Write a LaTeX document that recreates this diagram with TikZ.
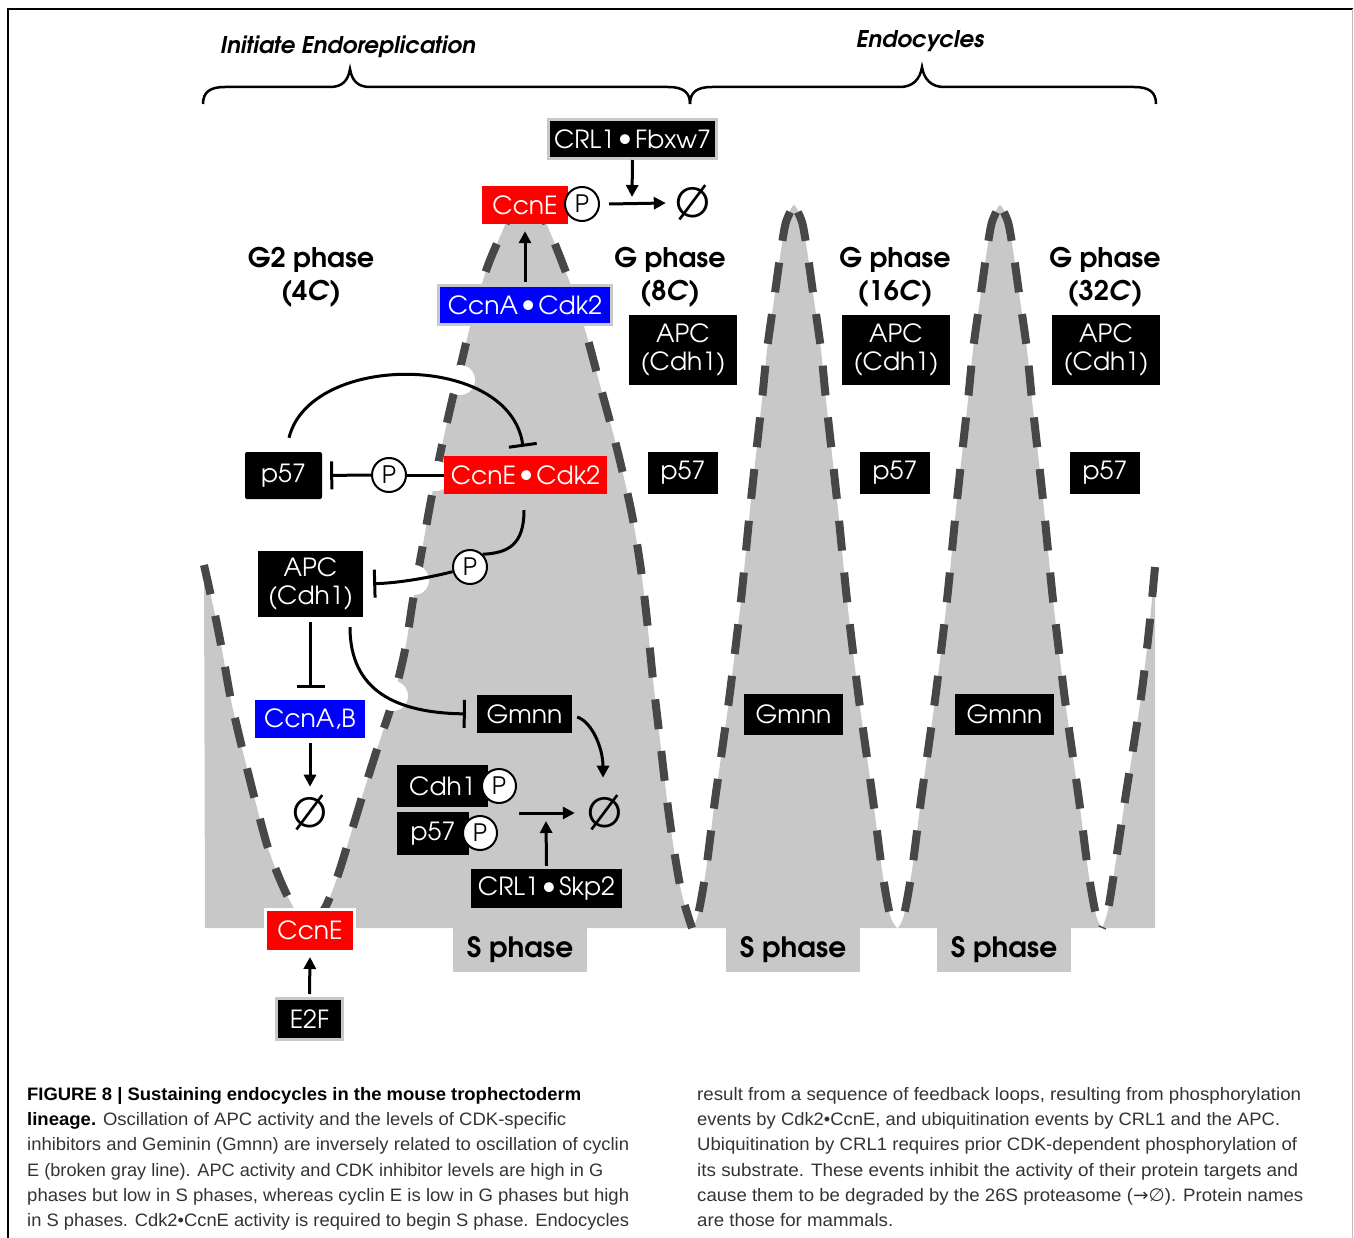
\documentclass[tikz,border=0pt]{standalone}
\usepackage{fontspec}
\usepackage{graphicx}
\usetikzlibrary{arrows.meta,calc}
\setmainfont{Liberation Sans}
\newfontfamily\gothic{texgyreadventor}[Extension=.otf,UprightFont=*-regular,BoldFont=*-bold,ItalicFont=*-italic,BoldItalicFont=*-bolditalic]
\newfontfamily\symfont{DejaVu Sans}
\newfontfamily\capfont{Liberation Sans}
\newcommand\cxdot{\kern3pt\raisebox{1.5pt}{\scalebox{1.1}{•}}\kern3pt}
\definecolor{sgray}{HTML}{C8C8C8}
\definecolor{bgray}{HTML}{BDBDBD}
\definecolor{dgray}{HTML}{474747}
\definecolor{cred}{HTML}{FF0000}
\definecolor{cblue}{HTML}{0000FF}
\definecolor{capgray}{HTML}{333333}
\tikzset{
  box/.style={font=\gothic\fontsize{25}{28}\selectfont, text=white, inner sep=0pt, align=center},
  blk/.style={box, fill=black},
  redb/.style={box, fill=cred},
  blueb/.style={box, fill=cblue},
  pc/.style={circle, draw=black, fill=white, line width=2pt, minimum size=34pt, inner sep=0pt, font=\gothic\fontsize{24}{24}\selectfont},
  conn/.style={line width=3pt, black},
  act/.style={conn, -{Triangle[length=12pt,width=12pt]}},
  inh/.style={conn, -{Bar[width=28pt,line width=3pt]}},
  nul/.style={font=\gothic\fontsize{40}{40}\selectfont, inner sep=0pt, minimum width=36pt, minimum height=36pt},
  phase/.style={font=\gothic\bfseries\fontsize{27}{33}\selectfont, align=center},
  stab/.style={fill=sgray, minimum width=134pt, minimum height=44pt, inner sep=0pt, font=\gothic\bfseries\fontsize{28}{28}\selectfont},
  head/.style={font=\gothic\bfseries\itshape\fontsize{23}{23}\selectfont},
  capline/.style={anchor=base west, inner sep=0pt, font=\capfont\fontsize{18}{18}\selectfont, text=capgray},
  brace/.style={line width=2.5pt, black},
  wave/.style={dgray, line width=8pt, dash pattern=on 30pt off 22pt},
  wavetop/.style={wave, dash phase=44pt}
}
\begin{document}
\begin{tikzpicture}[x=1pt,y=-1pt]
\useasboundingbox (0,0) rectangle (1354,1238);
% frame
\draw[line width=2pt] (8,1240) -- (8,9) -- (1353,9);
\draw[bgray, line width=1.5pt] (1352.5,9) -- (1352.5,1240);

% headings and braces
\node[head] (hInit) at (348,47) {Initiate Endoreplication};
\node[head] (hEndo) at (920,41) {Endocycles};
\draw[brace] (203,104) .. controls (203,92) and (210,87) .. (225,87) -- (330,87)
  .. controls (342,87) and (348,81) .. (350,69) .. controls (352,81) and (358,87) .. (370,87)
  -- (668,87) .. controls (683,87) and (690,92) .. (690,104);
\draw[brace] (690,104) .. controls (690,92) and (697,87) .. (712,87) -- (900,87)
  .. controls (912,87) and (920,80) .. (922,67) .. controls (924,80) and (932,87) .. (944,87)
  -- (1134,87) .. controls (1149,87) and (1156,92) .. (1156,104);

% gray S-phase area
\fill[sgray] (205,928) -- plot[smooth] coordinates {(204,565) (214,610) (222,650) (231,700) (243,752) (255,800) (268,848) (281,882) (294,908) (311,928)}
 -- plot[smooth] coordinates {(311,928) (326,906) (338,875) (352,830) (366,784) (380,740) (393,700) (405,650) (413,600) (422,550) (431,500) (441,450) (451,405) (462,360) (473,315) (487,268) (502,232) (513,208) (526,192) (539,208) (550,232) (562,262) (575,297) (588,340) (600,385) (613,433) (624,478) (633,520) (641,570) (647,620) (653,680) (660,740) (667,800) (674,850) (682,895) (692,928)}
 -- plot[smooth] coordinates {(692,928) (698,915) (706,870) (715,800) (729,700) (741,600) (751,500) (762,400) (767,350) (774,300) (781,250) (786,222) (794,205) (802,222) (807,250) (814,300) (821,350) (826,400) (837,500) (847,600) (859,700) (873,800) (882,870) (890,915) (897,928)}
 -- plot[smooth] coordinates {(898,928) (904,915) (912,870) (921,800) (935,700) (947,600) (957,500) (968,400) (973,350) (980,300) (987,250) (992,222) (1000,205) (1008,222) (1013,250) (1020,300) (1027,350) (1032,400) (1043,500) (1053,600) (1065,700) (1079,800) (1088,870) (1096,915) (1102,928)}
 -- plot[smooth] coordinates {(1102,928) (1108,910) (1116,860) (1125,800) (1134,743) (1142,690) (1149,630) (1155,567)}
 -- (1155,928) -- cycle;
\node[stab] (s1) at (520,950) {\raisebox{-4pt}{S phase}};
\node[stab] (s2) at (793,950) {\raisebox{-4pt}{S phase}};
\node[stab] (s3) at (1004,950) {\raisebox{-4pt}{S phase}};

% dashed cyclin E curve, one stroke per flank
\draw[wave] plot[smooth] coordinates {(204,565) (214,610) (222,650) (231,700) (243,752) (255,800) (268,848) (281,882) (294,908) (311,928)};
\draw[wavetop] plot[smooth] coordinates {(526,192) (513,208) (502,232) (487,268) (473,315) (462,360) (451,405) (441,450) (431,500) (422,550) (413,600) (405,650) (393,700) (380,740) (366,784) (352,830) (338,875) (326,906) (311,928)};
\draw[wavetop] plot[smooth] coordinates {(526,192) (539,208) (550,232) (562,262) (575,297) (588,340) (600,385) (613,433) (624,478) (633,520) (641,570) (647,620) (653,680) (660,740) (667,800) (674,850) (682,895) (692,928)};
\draw[wavetop] plot[smooth] coordinates {(794,205) (786,222) (781,250) (774,300) (767,350) (762,400) (751,500) (741,600) (729,700) (715,800) (706,870) (698,915) (692,928)};
\draw[wavetop] plot[smooth] coordinates {(794,205) (802,222) (807,250) (814,300) (821,350) (826,400) (837,500) (847,600) (859,700) (873,800) (882,870) (890,915) (897,928)};
\draw[wavetop] plot[smooth] coordinates {(1000,205) (992,222) (987,250) (980,300) (973,350) (968,400) (957,500) (947,600) (935,700) (921,800) (912,870) (904,915) (898,928)};
\draw[wavetop] plot[smooth] coordinates {(1000,205) (1008,222) (1013,250) (1020,300) (1027,350) (1032,400) (1043,500) (1053,600) (1065,700) (1079,800) (1088,870) (1096,915) (1102,928)};
\draw[wave] plot[smooth] coordinates {(1155,567) (1149,630) (1142,690) (1134,743) (1125,800) (1116,860) (1108,910) (1102,928)};

% line-crossing notches
\fill[white] (460,380) circle (15pt);
\fill[white] (436,476) circle (15pt);
\fill[white] (414,580) circle (15pt);
\fill[white] (393,696) circle (15pt);

% phase labels
\node[phase] (g2) at (311,277) {G2 phase\\(4\textit{C})};
\node[phase] (g8) at (670,277) {G phase\\(8\textit{C})};
\node[phase] (g16) at (895,277) {G phase\\(16\textit{C})};
\node[phase] (g32) at (1105,277) {G phase\\(32\textit{C})};

% G-phase boxes
\node[blk, minimum width=108pt, minimum height=70pt] (apc8) at (683,350) {APC\\(Cdh1)};
\node[blk, minimum width=108pt, minimum height=70pt] (apc16) at (896,350) {APC\\(Cdh1)};
\node[blk, minimum width=108pt, minimum height=70pt] (apc32) at (1106,350) {APC\\(Cdh1)};
\node[blk, minimum width=70pt, minimum height=42pt] (p578) at (683,473) {p57};
\node[blk, minimum width=70pt, minimum height=42pt] (p5716) at (895,473) {p57};
\node[blk, minimum width=70pt, minimum height=42pt] (p5732) at (1105,473) {p57};
\node[blk, minimum width=99pt, minimum height=41pt] (gm16) at (793.5,714.5) {Gmnn};
\node[blk, minimum width=99pt, minimum height=41pt] (gm32) at (1004.5,714.5) {Gmnn};

% top: CcnE degradation
\node[blk, draw=sgray, line width=3pt, minimum width=168pt, minimum height=39pt] (crlF) at (632.5,139) {CRL1\cxdot Fbxw7};
\node[redb, minimum width=86pt, minimum height=38pt] (ccnE) at (525,205) {CcnE};
\node[pc] (pE) at (582,204) {P};
\node[nul] (nullT) at (693,203) {Ø};
\coordinate (jT) at (632,197);
\draw[act] ([xshift=9pt]pE.east) -- ([xshift=-9pt]nullT.west);
\draw[act] (crlF.south) -- (jT);

\node[blueb, draw=sgray, line width=3pt, minimum width=173pt, minimum height=39pt] (ccnA) at (525,305) {CcnA\cxdot Cdk2};
\draw[act] ([yshift=2pt]ccnA.north) -- ([yshift=-7pt]ccnE.south);

% CcnE-Cdk2 and p57
\node[redb, minimum width=163pt, minimum height=38pt] (ccnEC) at (525.5,475) {CcnE\cxdot Cdk2};
\node[blk, rounded corners=2pt, minimum width=77pt, minimum height=47pt] (p57a) at (283.5,475.5) {p57};
\node[pc] (pA) at (389,475) {P};
\draw[conn] (ccnEC.west) -- (pA.east);
\draw[inh, shorten >=8pt] (pA.west) -- (p57a.east);
\draw[inh] ([xshift=5.5pt,yshift=14pt]p57a.north) .. controls (310,352) and (510,352) .. ([xshift=-2.5pt,yshift=9pt]ccnEC.north);

% APC branch
\node[pc] (pB) at (470,567) {P};
\draw[conn] ([xshift=-1.5pt,yshift=-16pt]ccnEC.south) .. controls (524,545) and (508,553) .. (pB.north east);
\node[blk, minimum width=105pt, minimum height=66pt] (apc) at (310.5,584) {APC\\(Cdh1)};
\draw[inh, shorten >=10pt] (pB.195) .. controls (432,577) and (400,583) .. (apc.east);
\node[blueb, minimum width=110pt, minimum height=38pt] (ccnAB) at (310,719) {CcnA,B};
\draw[inh] ([yshift=-5pt]apc.south) -- ([yshift=12pt]apc.south |- ccnAB.north);
\node[nul] (nullL) at (310,813) {Ø};
\draw[act] ([yshift=-5pt]ccnAB.south) -- ([yshift=8pt]nullL.north);
\node[blk, minimum width=95pt, minimum height=38pt] (gmnn) at (524.5,714) {Gmnn};
\draw[inh, shorten >=11pt] ([xshift=39.5pt,yshift=-10pt]apc.south) .. controls (350,690) and (395,713) .. (gmnn.west);
\node[nul] (nullR) at (605,813) {Ø};
\draw[act] ([xshift=5pt,yshift=-3pt]gmnn.east) .. controls (592,722) and (603,748) .. ([xshift=-2pt,yshift=17pt]nullR.north);

% CRL1-Skp2 substrates
\node[blk, minimum width=91pt, minimum height=42pt] (cdh1) at (442.5,786) {Cdh1};
\node[pc] (pC) at (499,786) {P};
\node[blk, minimum width=72pt, minimum height=43pt] (p57b) at (433,833.5) {p57};
\node[pc] (pD) at (480,833) {P};
\coordinate (aS) at (519,813);
\draw[act] (aS) -- ([xshift=-12pt]nullR.west);
\node[blk, minimum width=151pt, minimum height=39pt] (crlS) at (546.5,888.5) {CRL1\cxdot Skp2};
\coordinate (jS) at (546,821);
\draw[act] ([yshift=3pt]crlS.north) -- (jS);

% E2F -> CcnE
\node[redb, draw=white, line width=3pt, minimum width=89pt, minimum height=42pt] (ccnEb) at (310,930.5) {CcnE};
\node[blk, draw=sgray, line width=3pt, minimum width=66pt, minimum height=41pt] (e2f) at (309.5,1019) {E2F};
\draw[act] ([yshift=3pt]e2f.north) -- ([yshift=-4pt]ccnEb.south);

% caption
\node[capline] (c1) at (27,1100) {\resizebox{554pt}{\height}{\color{black}\bfseries FIGURE 8 | Sustaining endocycles in the mouse trophectoderm}};
\node[capline] (c2) at (27,1125) {\resizebox{539pt}{\height}{{\color{black}\bfseries lineage.} Oscillation of APC activity and the levels of CDK-specific}};
\node[capline] (c3) at (27,1150) {\resizebox{602pt}{\height}{inhibitors and Geminin (Gmnn) are inversely related to oscillation of cyclin}};
\node[capline] (c4) at (27,1176) {\resizebox{576pt}{\height}{E (broken gray line). APC activity and CDK inhibitor levels are high in G}};
\node[capline] (c5) at (27,1201) {\resizebox{602pt}{\height}{phases but low in S phases, whereas cyclin E is low in G phases but high}};
\node[capline] (c6) at (27,1226) {\resizebox{602pt}{\height}{in S phases. Cdk2\textbullet CcnE activity is required to begin S phase. Endocycles}};
\node[capline] (r1) at (697,1100) {\resizebox{604pt}{\height}{result from a sequence of feedback loops, resulting from phosphorylation}};
\node[capline] (r2) at (697,1125) {\resizebox{583pt}{\height}{events by Cdk2\textbullet CcnE, and ubiquitination events by CRL1 and the APC.}};
\node[capline] (r3) at (697,1150) {\resizebox{600pt}{\height}{Ubiquitination by CRL1 requires prior CDK-dependent phosphorylation of}};
\node[capline] (r4) at (697,1176) {\resizebox{601pt}{\height}{its substrate. These events inhibit the activity of their protein targets and}};
\node[capline] (r5) at (697,1201) {\resizebox{606pt}{\height}{cause them to be degraded by the 26S proteasome ({\symfont →∅}). Protein names}};
\node[capline] (r6) at (697,1226) {\resizebox{196pt}{\height}{are those for mammals.}};
\end{tikzpicture}
\end{document}
